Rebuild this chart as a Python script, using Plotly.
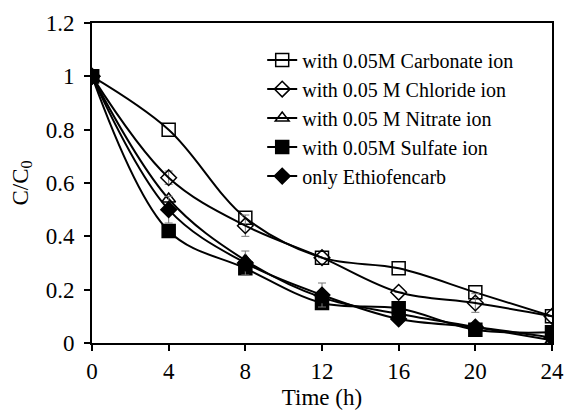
import plotly.graph_objects as go

time_h = [0, 4, 8, 12, 16, 20, 24]

carbonate = [1.0, 0.80, 0.47, 0.32, 0.28, 0.19, 0.10]
chloride = [1.0, 0.62, 0.44, 0.32, 0.19, 0.15, 0.10]
nitrate = [1.0, 0.54, 0.31, 0.17, 0.11, 0.06, 0.01]
sulfate = [1.0, 0.42, 0.28, 0.15, 0.13, 0.05, 0.04]
ethiofencarb = [1.0, 0.50, 0.30, 0.18, 0.09, 0.06, 0.02]

chloride_err = [0, 0.025, 0.04, 0, 0, 0.035, 0]
ethiofencarb_err = [0, 0.05, 0.045, 0.045, 0, 0, 0]

series = [
    ("with 0.05M Carbonate ion", carbonate, "square-open", 13, None),
    ("with 0.05 M Chloride ion", chloride, "diamond-open", 12, chloride_err),
    ("with 0.05 M Nitrate ion", nitrate, "triangle-up-open", 12, None),
    ("with 0.05M Sulfate ion", sulfate, "square", 13, None),
    ("only Ethiofencarb", ethiofencarb, "diamond", 12, ethiofencarb_err),
]

fig = go.Figure()
for i, (name, vals, sym, size, err) in enumerate(series):
    fig.add_trace(go.Scatter(
        x=time_h, y=vals, name=name, mode="lines+markers",
        line=dict(color="black", width=2, shape="spline", smoothing=1),
        marker=dict(symbol=sym, size=size, color="black",
                    line=dict(color="black", width=1.5)),
        error_y=(dict(type="data", array=err, visible=True, color="#777777",
                      thickness=1, width=4) if err else None),
        legendgroup=str(i),
    ))

serif = "Times New Roman"

fig.update_layout(
    width=565, height=412,
    margin=dict(l=92, r=13, t=23, b=69, autoexpand=False),
    paper_bgcolor="white", plot_bgcolor="white",
    font=dict(family=serif, size=23, color="black"),
    showlegend=True,
    legend=dict(x=0.37, y=0.945, xanchor="left", yanchor="top",
                font=dict(size=20, family=serif),
                bgcolor="rgba(0,0,0,0)", tracegroupgap=0),
    xaxis=dict(range=[0, 24], tickvals=[0, 4, 8, 12, 16, 20, 24],
               showgrid=False, zeroline=False, showline=True, mirror=True,
               linecolor="black", linewidth=2, ticks="outside", ticklen=6,
               tickwidth=2, tickcolor="black", automargin=False,
               tickfont=dict(family=serif, size=23),
               title=dict(text="Time (h)", standoff=6,
                          font=dict(family=serif, size=23))),
    yaxis=dict(range=[0, 1.2], tickvals=[0, 0.2, 0.4, 0.6, 0.8, 1.0, 1.2],
               ticktext=["0", "0.2", "0.4", "0.6", "0.8", "1", "1.2"],
               showgrid=False, zeroline=False, showline=True, mirror=True,
               linecolor="black", linewidth=2, ticks="outside", ticklen=6,
               tickwidth=2, tickcolor="black", ticklabelstandoff=5,
               automargin=False,
               tickfont=dict(family=serif, size=23),
               title=dict(text="C/C<sub>0</sub>", standoff=11,
                          font=dict(family=serif, size=23))),
)

fig.write_html("out.html")
